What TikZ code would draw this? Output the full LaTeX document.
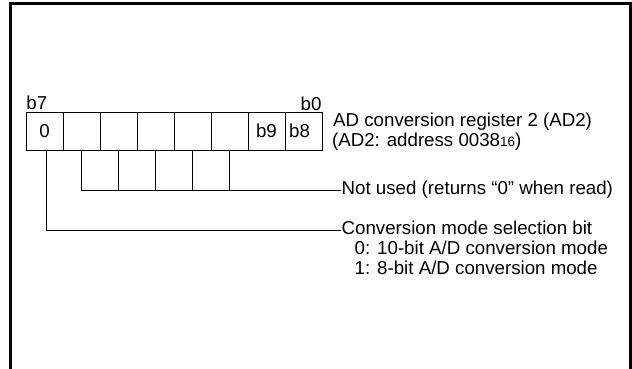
\documentclass[tikz,border=0pt]{standalone}
\usepackage{fontspec}
\setmainfont{Liberation Sans}
\usetikzlibrary{positioning}

\tikzset{
  regcell/.style={draw, minimum width=37pt, minimum height=37.7pt, inner sep=0pt, outer sep=0pt},
  txt/.style={inner sep=0pt, text height=0.716em, text depth=0pt, anchor=west},
  bitno/.style={inner sep=0pt},
}

\begin{document}
\begin{tikzpicture}[x=1pt, y=-1pt, line width=1pt, font=\fontsize{18.7}{22}\selectfont]
\useasboundingbox (0,0) rectangle (632,369);

% ==========================================
% Outer frame (open at the bottom)
% ==========================================
\draw[line width=2.7pt] (10.3,371) -- (10.3,3.3) -- (630.7,3.3) -- (630.7,371);

% ==========================================
% Register AD2, b7 ... b0
% ==========================================
\node[regcell] (c0) at (44.5,131.15) {0};
\foreach \i [remember=\i as \prev (initially 0)] in {1,...,5}
  \node[regcell, right=0pt of c\prev] (c\i) {};
\node[regcell, right=0pt of c5] (c6) {b9};
\node[regcell, right=0pt of c6] (c7) {b8\kern8pt};

% Bit numbers
\node[bitno, anchor=base west] (b7) at ([yshift=2.3pt]c0.north west) {b7};
\node[bitno, anchor=base east] (b0) at ([yshift=1.6pt]c7.north east) {b0};

% ==========================================
% Texts
% ==========================================
\node[txt] (reg) at (332.7,123.3) {AD conversion register 2 (AD2)};
\node[txt] (addr) at (331.6,143.3) {(AD2: address 0038{\fontsize{13.5}{14}\selectfont 16})};

\node[txt] (notused) at (341.2,190.5) {Not used (returns “0” when read)};

\node[txt] (mode) at (341.2,230.5) {Conversion mode selection bit};
\node[txt] (mode0) at (354.2,251) {0: 10-bit A/D conversion mode};
\node[txt] (mode1) at (354.2,271) {1: 8-bit A/D conversion mode};

% ==========================================
% Leader lines
% ==========================================
\draw ([xshift=2pt]c0.south) |- (mode.west);
\draw (c1.south) |- (notused.west);
\foreach \i in {2,...,5}
  \draw (c\i.south) -- (c\i.south |- notused.west);

\end{tikzpicture}
\end{document}
